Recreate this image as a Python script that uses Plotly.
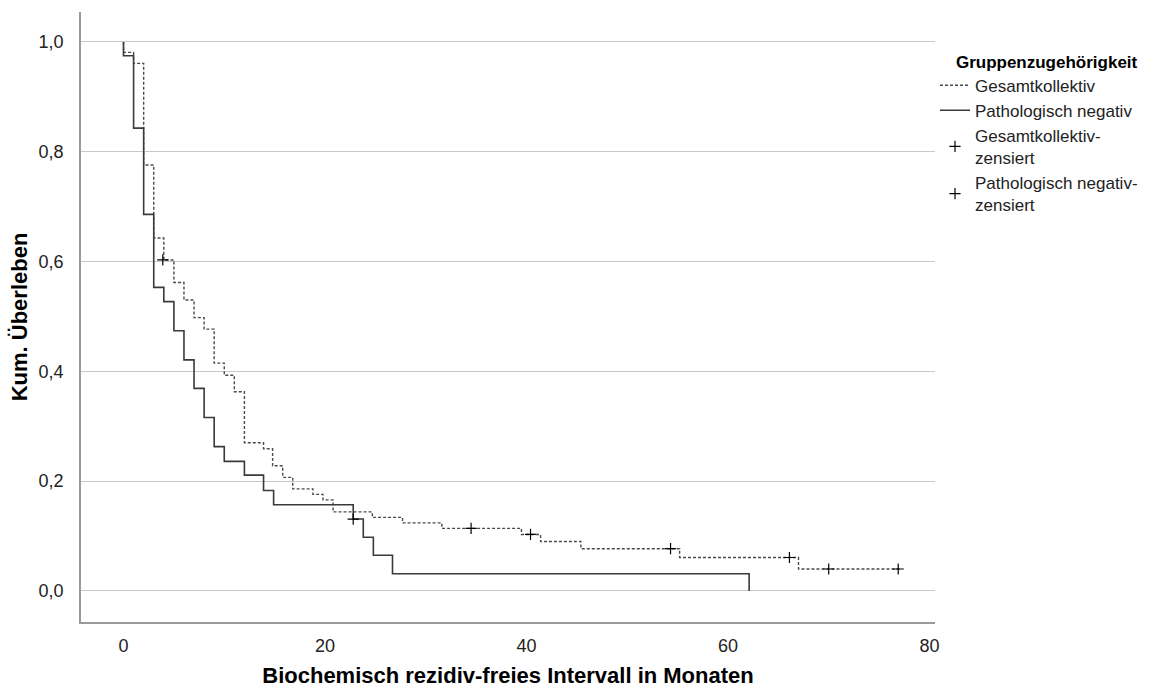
import plotly.graph_objects as go

# Kaplan-Meier step data (time in months, cumulative survival)
gesamt_time = [0, 0, 1, 2, 3, 4, 5, 6, 7, 8, 9, 10, 11, 12, 13.9, 14.8, 15.8, 16.8, 18.8,
               19.8, 20.8, 24.7, 27.7, 31.6, 39.5, 41.4, 45.4, 55.2, 67.0, 77.2]
gesamt_surv = [1.0, 0.981, 0.961, 0.776, 0.643, 0.603, 0.562, 0.530, 0.498, 0.477, 0.415,
               0.393, 0.363, 0.270, 0.259, 0.228, 0.207, 0.186, 0.176, 0.166, 0.144, 0.134,
               0.124, 0.114, 0.103, 0.090, 0.077, 0.061, 0.040, 0.040]

patho_time = [0, 0, 1, 2, 3, 4, 5, 6, 7, 8, 9, 10, 12, 13.9, 14.9, 22.8, 23.8, 24.8, 26.7, 62.1]
patho_surv = [1.0, 0.975, 0.843, 0.686, 0.553, 0.527, 0.474, 0.421, 0.369, 0.316, 0.263,
              0.236, 0.211, 0.183, 0.157, 0.131, 0.098, 0.065, 0.0315, 0.0]

gesamt_cens_time = [3.9, 34.5, 40.4, 54.3, 66.1, 70.0, 76.9]
gesamt_cens_surv = [0.603, 0.114, 0.103, 0.077, 0.061, 0.040, 0.040]

patho_cens_time = [22.8]
patho_cens_surv = [0.131]

x_ticks = [0, 20, 40, 60, 80]
y_ticks = [0.0, 0.2, 0.4, 0.6, 0.8, 1.0]

FONT = "Liberation Sans, Arial, sans-serif"

fig = go.Figure()
fig.add_trace(go.Scatter(
    x=gesamt_time, y=gesamt_surv, mode="lines", line_shape="hv",
    name="Gesamtkollektiv",
    line=dict(color="#4a4a4a", width=1.4, dash="3px,2px")))
fig.add_trace(go.Scatter(
    x=patho_time, y=patho_surv, mode="lines", line_shape="hv",
    name="Pathologisch negativ",
    line=dict(color="#3a3a3a", width=1.6)))
fig.add_trace(go.Scatter(
    x=gesamt_cens_time, y=gesamt_cens_surv, mode="markers",
    name="Gesamtkollektiv-<br>zensiert",
    marker=dict(symbol="cross-thin", size=8, color="#000000",
                line=dict(width=1.2, color="#000000"))))
fig.add_trace(go.Scatter(
    x=patho_cens_time, y=patho_cens_surv, mode="markers",
    name="Pathologisch negativ-<br>zensiert",
    marker=dict(symbol="cross-thin", size=8, color="#000000",
                line=dict(width=1.2, color="#000000"))))

fig.update_layout(
    width=1153, height=688,
    margin=dict(l=81, r=218, t=12, b=66, autoexpand=False),
    paper_bgcolor="white", plot_bgcolor="white",
    separators=",.",
    font=dict(family=FONT, size=17, color="#222222"),
    showlegend=True,
    legend=dict(
        x=1.0, xanchor="left", y=0.945, yanchor="top",
        title=dict(text="&nbsp;&nbsp;&nbsp;&nbsp;<b>Gruppenzugehörigkeit</b>",
                   font=dict(size=17, color="#000000")),
        font=dict(size=17, color="#222222"),
        bgcolor="rgba(0,0,0,0)", itemwidth=30, tracegroupgap=0),
    xaxis=dict(
        range=[-4.22, 80.55], tickvals=x_ticks, tickformat="d", automargin=False,
        showgrid=False, zeroline=False, showline=True, linecolor="#9a9a9a", linewidth=1.5,
        ticks="", ticklabelstandoff=7,
        tickfont=dict(size=18, color="#222222"),
        title=dict(text="<b>Biochemisch rezidiv-freies Intervall in Monaten</b>",
                   font=dict(size=22, color="#000000"), standoff=14)),
    yaxis=dict(
        range=[-0.0565, 1.0546], tickvals=y_ticks, tickformat=".1f", automargin=False,
        showgrid=True, gridcolor="#c8c8c8", gridwidth=1,
        zeroline=False, showline=True, linecolor="#9a9a9a", linewidth=1.5,
        ticks="", ticklabelstandoff=12,
        tickfont=dict(size=18, color="#222222"),
        title=dict(text="<b>Kum. Überleben</b>",
                   font=dict(size=22, color="#000000"), standoff=5)),
)

fig.write_html("out.html", config={"displayModeBar": False},
               post_script="document.body.style.margin='0px';document.body.style.padding='0px';")
